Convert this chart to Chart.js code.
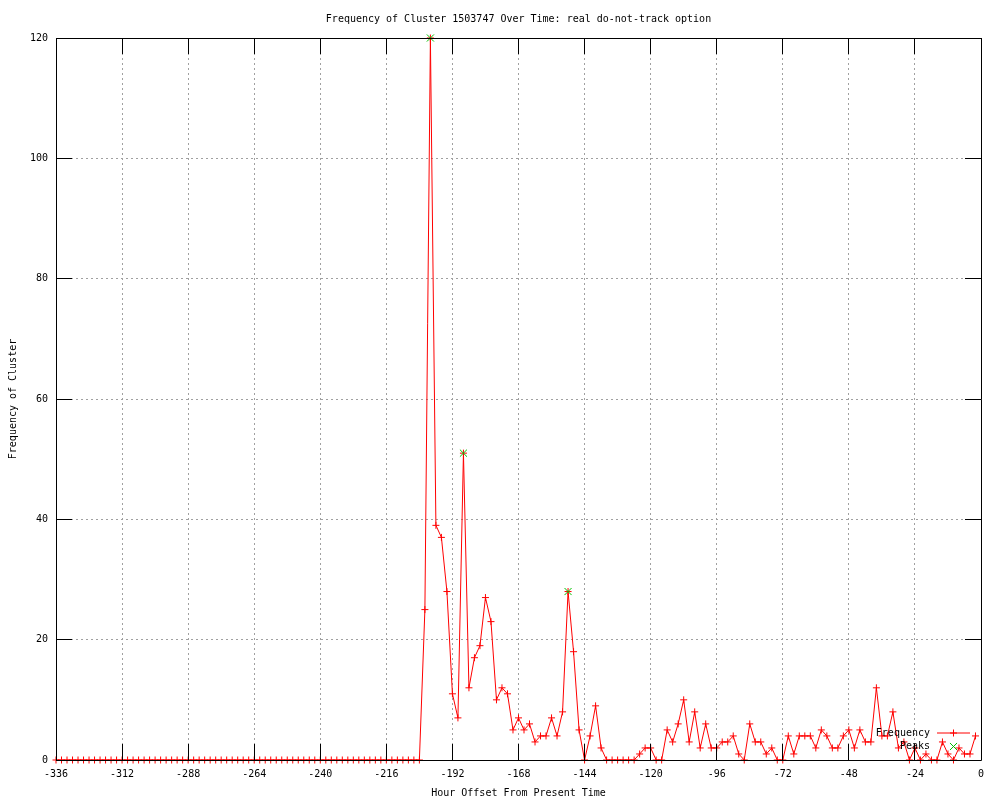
<!DOCTYPE html>
<html>
<head>
<meta charset="utf-8">
<title>Frequency of Cluster 1503747</title>
<script src="https://cdn.jsdelivr.net/npm/chart.js@4/dist/chart.umd.min.js"></script>
<style>
  body { margin: 0; background: #fff; }
  canvas { display: block; }
</style>
</head>
<body>
<canvas id="grafica_cluster" width="1000" height="800"></canvas>
<script>
/*-----Datos-----*/

const horas = [
  -336, -334, -332, -330, -328, -326, -324, -322, -320, -318, -316, -314,
  -312, -310, -308, -306, -304, -302, -300, -298, -296, -294, -292, -290,
  -288, -286, -284, -282, -280, -278, -276, -274, -272, -270, -268, -266,
  -264, -262, -260, -258, -256, -254, -252, -250, -248, -246, -244, -242,
  -240, -238, -236, -234, -232, -230, -228, -226, -224, -222, -220, -218,
  -216, -214, -212, -210, -208, -206, -204, -202, -200, -198, -196, -194,
  -192, -190, -188, -186, -184, -182, -180, -178, -176, -174, -172, -170,
  -168, -166, -164, -162, -160, -158, -156, -154, -152, -150, -148, -146,
  -144, -142, -140, -138, -136, -134, -132, -130, -128, -126, -124, -122,
  -120, -118, -116, -114, -112, -110, -108, -106, -104, -102, -100, -98,
  -96, -94, -92, -90, -88, -86, -84, -82, -80, -78, -76, -74,
  -72, -70, -68, -66, -64, -62, -60, -58, -56, -54, -52, -50,
  -48, -46, -44, -42, -40, -38, -36, -34, -32, -30, -28, -26,
  -24, -22, -20, -18, -16, -14, -12, -10, -8, -6, -4, -2
];

const frecuencia = [
  0, 0, 0, 0, 0, 0, 0, 0, 0, 0, 0, 0,
  0, 0, 0, 0, 0, 0, 0, 0, 0, 0, 0, 0,
  0, 0, 0, 0, 0, 0, 0, 0, 0, 0, 0, 0,
  0, 0, 0, 0, 0, 0, 0, 0, 0, 0, 0, 0,
  0, 0, 0, 0, 0, 0, 0, 0, 0, 0, 0, 0,
  0, 0, 0, 0, 0, 0, 0, 25, 120, 39, 37, 28,
  11, 7, 51, 12, 17, 19, 27, 23, 10, 12, 11, 5,
  7, 5, 6, 3, 4, 4, 7, 4, 8, 28, 18, 5,
  0, 4, 9, 2, 0, 0, 0, 0, 0, 0, 1, 2,
  2, 0, 0, 5, 3, 6, 10, 3, 8, 2, 6, 2,
  2, 3, 3, 4, 1, 0, 6, 3, 3, 1, 2, 0,
  0, 4, 1, 4, 4, 4, 2, 5, 4, 2, 2, 4,
  5, 2, 5, 3, 3, 12, 4, 4, 8, 2, 3, 0,
  2, 0, 1, 0, 0, 3, 1, 0, 2, 1, 1, 4
];

const picos_horas = [-200, -188, -150];
const picos_valores = [120, 51, 28];

const fuente = { family: '"DejaVu Sans Mono", monospace', size: 10 };

/*-----Marco y marcas hacia dentro (estilo gnuplot)-----*/

const marco = {
  id: 'marco',
  afterDatasetsDraw(chart) {
    const { ctx, chartArea: a, scales: { x, y } } = chart;
    const al = v => Math.round(v - 0.5) + 0.5;
    const largo = 16;
    ctx.save();
    ctx.strokeStyle = '#000';
    ctx.lineWidth = 1;
    ctx.beginPath();
    x.ticks.forEach(t => {
      const px = al(x.getPixelForValue(t.value));
      ctx.moveTo(px, a.bottom); ctx.lineTo(px, a.bottom - largo);
      ctx.moveTo(px, a.top); ctx.lineTo(px, a.top + largo);
    });
    y.ticks.forEach(t => {
      const py = al(y.getPixelForValue(t.value));
      ctx.moveTo(a.left, py); ctx.lineTo(a.left + largo, py);
      ctx.moveTo(a.right, py); ctx.lineTo(a.right - largo, py);
    });
    ctx.rect(al(a.left), al(a.top), Math.round(a.right - a.left), Math.round(a.bottom - a.top));
    ctx.stroke();
    ctx.restore();
  }
};

/*-----Leyenda dentro del gráfico-----*/

const leyenda = {
  id: 'leyenda',
  afterDraw(chart) {
    const { ctx, chartArea: a } = chart;
    ctx.save();
    ctx.font = '10px ' + fuente.family;
    ctx.fillStyle = '#000';
    ctx.textAlign = 'right';
    ctx.textBaseline = 'middle';
    chart.data.datasets.forEach((d, k) => {
      const yy = a.bottom - 27 + k * 13.5;
      ctx.fillText(d.label, a.right - 51, yy);
      const xm = a.right - 27.5;
      ctx.strokeStyle = d.pointBorderColor;
      ctx.lineWidth = 1;
      if (d.showLine !== false) {
        ctx.beginPath();
        ctx.moveTo(a.right - 44, yy);
        ctx.lineTo(a.right - 11, yy);
        ctx.stroke();
      }
      Chart.helpers.drawPoint(ctx, {
        pointStyle: d.pointStyle,
        radius: d.pointRadius,
        rotation: 0,
        borderWidth: 1
      }, xm, yy);
    });
    ctx.restore();
  }
};

/*-----Gráfica de frecuencia-----*/

const grafica_cluster = document.getElementById('grafica_cluster');

new Chart(grafica_cluster, {
  type: 'line',
  data: {
    datasets: [{
      label: 'Frequency',
      data: horas.map((h, k) => ({ x: h, y: frecuencia[k] })),
      borderColor: '#ff0000',
      borderWidth: 1,
      tension: 0,
      pointStyle: 'cross',
      pointRadius: 3.5,
      pointHoverRadius: 3.5,
      pointBorderColor: '#ff0000',
      pointBackgroundColor: '#ff0000',
      pointBorderWidth: 1,
      clip: false,
      order: 1
    },
    {
      label: 'Peaks',
      data: picos_horas.map((h, k) => ({ x: h, y: picos_valores[k] })),
      showLine: false,
      pointStyle: 'crossRot',
      pointRadius: 5,
      pointHoverRadius: 5,
      pointBorderColor: '#00c000',
      pointBackgroundColor: '#00c000',
      pointBorderWidth: 1,
      clip: false,
      order: 0
    }]
  },
  options: {
    responsive: false,
    animation: false,
    events: [],
    layout: {
      padding: { left: 0, right: 19, top: 0, bottom: 0 }
    },
    scales: {
      x: {
        type: 'linear',
        position: 'bottom',
        min: -336,
        max: 0,
        afterFit: s => { s.height = 40; },
        ticks: {
          stepSize: 24,
          autoSkip: false,
          maxRotation: 0,
          padding: 8,
          color: '#000',
          font: fuente
        },
        grid: { color: '#a0a0a0', lineWidth: 1, drawTicks: false },
        border: { display: false, dash: [2, 3] },
        title: {
          display: true,
          text: 'Hour Offset From Present Time',
          color: '#000',
          font: fuente,
          padding: { top: 0, bottom: 1 }
        }
      },
      titulo: {
        type: 'linear',
        position: 'top',
        min: -336,
        max: 0,
        afterFit: s => { s.height = 38; },
        ticks: { display: false },
        grid: { display: false },
        border: { display: false },
        title: {
          display: true,
          text: 'Frequency of Cluster 1503747 Over Time: real do-not-track option',
          color: '#000',
          font: fuente,
          padding: { top: 13, bottom: 0 }
        }
      },
      y: {
        min: 0,
        max: 120,
        afterFit: s => { s.width = 56; },
        ticks: {
          stepSize: 20,
          padding: 8,
          color: '#000',
          font: fuente
        },
        grid: { color: '#a0a0a0', lineWidth: 1, drawTicks: false },
        border: { display: false, dash: [2, 3] },
        title: {
          display: true,
          text: 'Frequency of Cluster',
          color: '#000',
          font: fuente,
          padding: { top: 7, bottom: 0 }
        }
      }
    },
    plugins: {
      legend: { display: false },
      tooltip: { enabled: false }
    }
  },
  plugins: [marco, leyenda]
});
</script>
</body>
</html>
